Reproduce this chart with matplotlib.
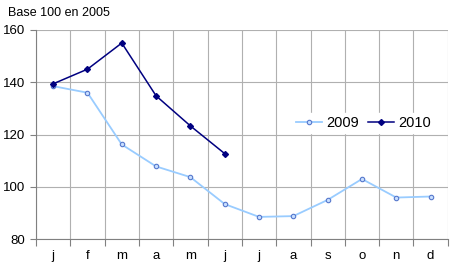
import matplotlib.pyplot as plt

plt.rcParams['font.family'] = ['Liberation Sans', 'DejaVu Sans']

months = ['j', 'f', 'm', 'a', 'm', 'j', 'j', 'a', 's', 'o', 'n', 'd']
v2009 = [138.5, 136.0, 116.2, 107.8, 103.7, 93.4, 88.5, 88.8, 95.0, 103.0, 95.9, 96.3]
v2010 = [139.4, 145.0, 155.0, 134.8, 123.3, 112.7]

fig = plt.figure(figsize=(4.5, 2.8), dpi=100)
ax = fig.add_axes([0.08, 0.146, 0.915, 0.747])

x = list(range(len(months)))
ax.plot(x, v2009, color='#99CCFF', lw=1.3, marker='o', ms=3.2,
        mfc='#C8DFFF', mec='#5577CC', mew=0.8, label='2009')
ax.plot(x[:len(v2010)], v2010, color='#000080', lw=1.1, marker='D', ms=3,
        mfc='#000080', mec='#000080', label='2010')

ax.set_xlim(-0.5, 11.5)
ax.set_ylim(80, 160)
ax.set_yticks([80, 100, 120, 140, 160])
ax.set_xticks([i + 0.5 for i in range(-1, 12)], minor=False)
ax.set_xticklabels([])
ax.set_xticks(x, minor=True)
ax.set_xticklabels(months, minor=True)
ax.tick_params(axis='x', which='minor', length=0, pad=8, labelsize=9.5)
ax.tick_params(axis='x', which='major', length=5, color='#808080')
ax.tick_params(axis='y', length=4, color='#808080', labelsize=9.5)
ax.grid(True, which='major', color='#B0B0B0', lw=0.8)
for s in ['top', 'right']:
    ax.spines[s].set_visible(False)
for s in ['left', 'bottom']:
    ax.spines[s].set_color('#808080')

ax.legend(loc='center', bbox_to_anchor=(0.795, 0.555), ncol=2, frameon=True,
          fancybox=False, edgecolor='white', framealpha=1, fontsize=10.5,
          handlelength=1.8, handletextpad=0.3, columnspacing=0.6, borderpad=0.2)

fig.text(0.018, 0.955, 'Base 100 en 2005', fontsize=9, va='center')

fig.savefig('out.png', dpi=100)
